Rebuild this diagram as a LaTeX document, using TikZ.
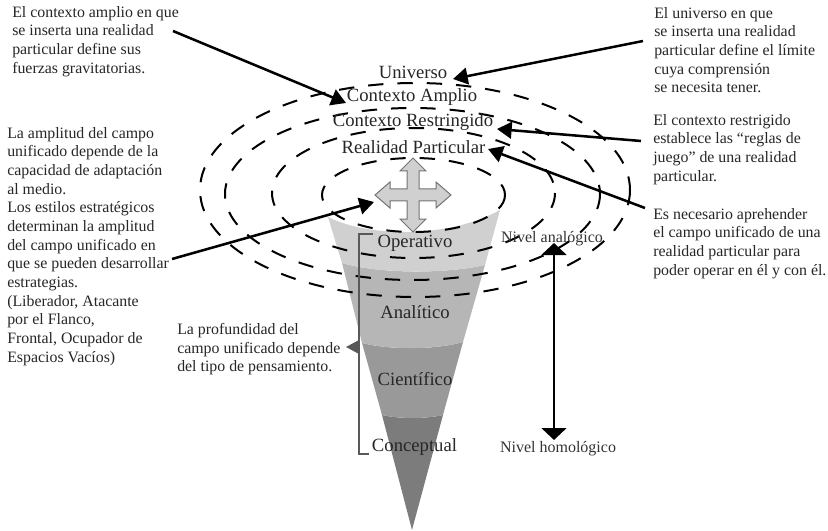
\documentclass[tikz,border=0pt]{standalone}
\usepackage{fontspec}
\setmainfont{Liberation Serif}
\usetikzlibrary{arrows.meta}
\definecolor{cone1}{HTML}{D0D0D0}
\definecolor{cone2}{HTML}{B6B6B6}
\definecolor{cone3}{HTML}{999999}
\definecolor{cone4}{HTML}{7C7C7C}
\tikzset{
  x=0.75pt,y=-0.75pt,
  ring/.style={draw=black,line width=1.5pt,dash pattern=on 11.5pt off 10.5pt},
  pointer/.style={draw=black,line width=1.9pt,-{Triangle[length=11pt,width=12.5pt]}},
  both/.style={draw=black,line width=2.2pt,{Triangle[length=9pt,width=18.5pt]}-{Triangle[length=9pt,width=18.5pt]}},
  note/.style={font=\fontsize{11.9pt}{14pt}\selectfont,align=left,inner sep=0pt,anchor=north west,text=black!85},
  level/.style={font=\fontsize{14pt}{16pt}\selectfont,inner sep=0pt,text=black!85},
  small/.style={font=\fontsize{12pt}{14pt}\selectfont,inner sep=0pt,text=black!80},
  bracket/.style={draw=black!65,line width=1.1pt},
}
\begin{document}
\begin{tikzpicture}
\useasboundingbox (0,0) rectangle (828,531);
% cone
\fill[cone4] (382,415) .. controls (400,419) and (425,419) .. (443,415) -- (412,530) -- cycle;
\fill[cone3] (362,343) .. controls (390,350) and (435,350) .. (463,342) -- (443,415) .. controls (425,419) and (400,419) .. (382,415) -- cycle;
\fill[cone2] (342,263) .. controls (380,274) and (445,274) .. (485,265) -- (463,342) .. controls (435,350) and (390,350) .. (362,343) -- cycle;
\fill[cone1] (328,217) .. controls (370,238) and (450,238) .. (500,210) -- (485,265) .. controls (445,274) and (380,274) .. (342,263) -- cycle;
% rings
\draw[ring] (415,190) ellipse [x radius=215,y radius=107];
\draw[ring] (412.5,194) ellipse [x radius=187.5,y radius=86];
\draw[ring] (413.5,193) ellipse [x radius=141.5,y radius=65];
\draw[ring] (413.5,195) ellipse [x radius=91.5,y radius=37];
% cross
\draw[draw=black!55,fill=cone1,line width=0.75pt]
  (413,158) -- (426,171) -- (419,171) -- (419,189) -- (436,189) -- (436,182) -- (451,195)
  -- (436,208) -- (436,201) -- (419,201) -- (419,219) -- (426,219) -- (413,232)
  -- (400,219) -- (407,219) -- (407,201) -- (390,201) -- (390,208) -- (375,195)
  -- (390,182) -- (390,189) -- (407,189) -- (407,171) -- (400,171) -- cycle;
% bracket
\draw[bracket] (373,234) -- (359,234) -- (359,454) -- (369,454);
\fill[black!65] (346,347) -- (359,340) -- (359,354) -- cycle;
% level names
\node[level] (universo) at (413,72) {Universo};
\node[level] (amplio) at (412,97) {Contexto Amplio};
\node[level] (restringido) at (413,122) {Contexto Restringido};
\node[level] (realidad) at (413.5,147) {Realidad Particular};
\node[level] (operativo) at (415,243) {Operativo};
\node[level] (analitico) at (415,312) {Analítico};
\node[level] (cientifico) at (415,379) {Científico};
\node[level] (conceptual) at (414.5,447) {Conceptual};
\node[small] (analogico) at (552,239) {Nivel analógico};
\node[small] (homologico) at (558,449) {Nivel homológico};
% notes
\node[note] (n1) at (12,6) {El contexto amplio en que\\se inserta una realidad\\particular define sus\\fuerzas gravitatorias.};
\node[note] (n2) at (654,7) {El universo en que\\se inserta una realidad\\particular define el límite\\cuya comprensión\\se necesita tener.};
\node[note] (n3) at (653,114) {El contexto restrigido\\establece las “reglas de\\juego” de una realidad\\particular.};
\node[note] (n4) at (653,208) {Es necesario aprehender\\el campo unificado de una\\realidad particular para\\poder operar en él y con él.};
\node[note] (n5) at (7,127) {La amplitud del campo\\unificado depende de la\\capacidad de adaptación\\al medio.\\Los estilos estratégicos\\determinan la amplitud\\del campo unificado en\\que se pueden desarrollar\\estrategias.\\(Liberador, Atacante\\por el Flanco,\\Frontal, Ocupador de\\Espacios Vacíos)};
\node[note] (n6) at (177,323) {La profundidad del\\campo unificado depende\\del tipo de pensamiento.};
% pointers
\coordinate (s1) at (173,31);
\coordinate (t1) at (346,103);
\coordinate (s2) at (643,41);
\coordinate (t2) at (453,79);
\coordinate (s3) at (641,141);
\coordinate (t3) at (497,129);
\coordinate (s4) at (645,208);
\coordinate (t4) at (488,149);
\coordinate (s5) at (172,259);
\coordinate (t5) at (374,202);
\coordinate (s6) at (554,243);
\coordinate (t6) at (554,440);
\draw[pointer] (s1) -- (t1);
\draw[pointer] (s2) -- (t2);
\draw[pointer] (s3) -- (t3);
\draw[pointer] (s4) -- (t4);
\draw[pointer] (s5) -- (t5);
\draw[both] (s6) -- (t6);
\end{tikzpicture}
\end{document}
